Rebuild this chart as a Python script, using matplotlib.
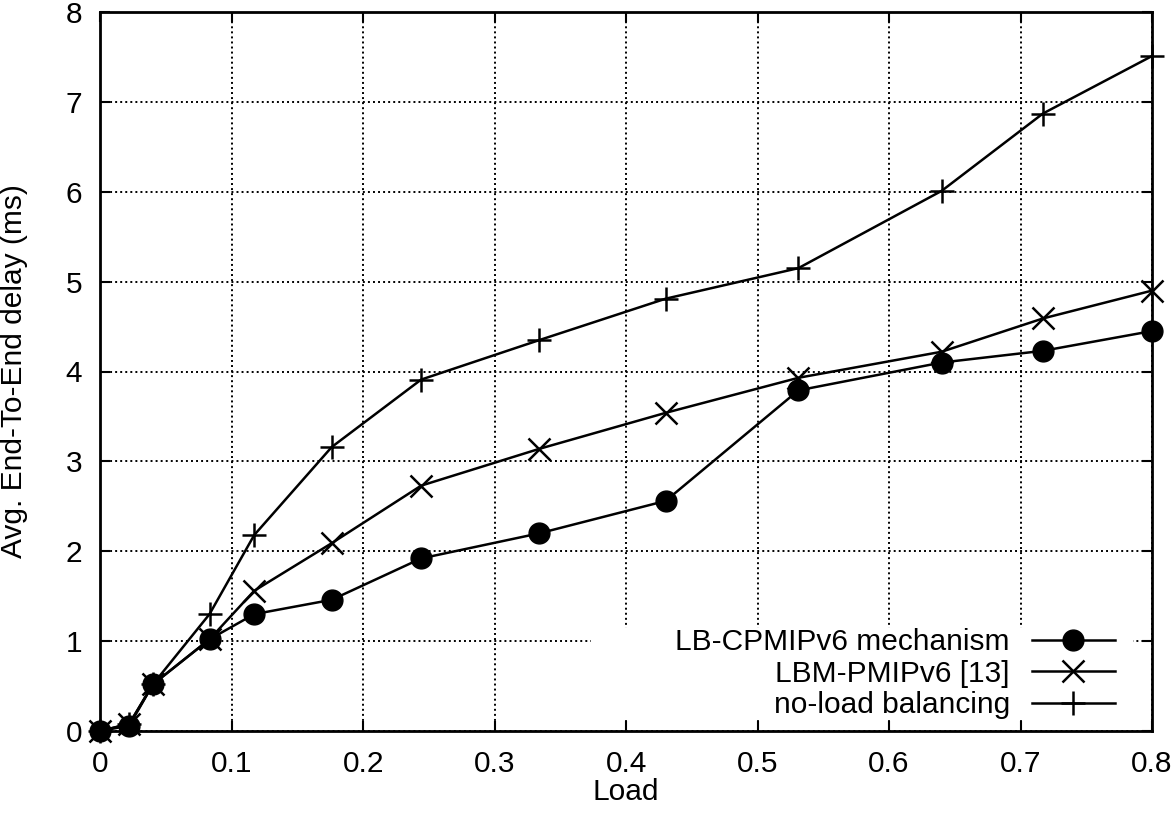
import matplotlib
matplotlib.use("Agg")
import matplotlib.pyplot as plt
from matplotlib.patches import Rectangle

plt.rcParams['font.family'] = ['Liberation Sans', 'DejaVu Sans']

# data
load = [0, 0.022, 0.040, 0.083, 0.117, 0.176, 0.244, 0.334, 0.430, 0.531, 0.640, 0.717, 0.800]
lb_cpmipv6 = [0, 0.06, 0.52, 1.02, 1.30, 1.46, 1.92, 2.20, 2.56, 3.79, 4.10, 4.23, 4.45]
lbm_pmipv6 = [0, 0.08, 0.52, 1.02, 1.56, 2.09, 2.73, 3.14, 3.54, 3.93, 4.22, 4.59, 4.90]
no_lb = [0, 0.08, 0.52, 1.30, 2.18, 3.16, 3.91, 4.35, 4.81, 5.15, 6.01, 6.87, 7.51]

labels = ["LB-CPMIPv6 mechanism", "LBM-PMIPv6 [13]", "no-load balancing"]
xticks = [0, 0.1, 0.2, 0.3, 0.4, 0.5, 0.6, 0.7, 0.8]
xticklabels = ["0", "0.1", "0.2", "0.3", "0.4", "0.5", "0.6", "0.7", "0.8"]
yticks = [0, 1, 2, 3, 4, 5, 6, 7, 8]

FS = 21.5

fig = plt.figure(figsize=(11.76, 8.18), dpi=100)
ax = fig.add_axes([100.4 / 1176, 1 - 731 / 818, (1152 - 100.4) / 1176, (731 - 12) / 818])

ax.set_axisbelow(True)
ax.grid(True, color="black", linestyle=(0, (1, 1.6)), linewidth=1.4)

# white box behind the key (gnuplot-style)
ax.add_patch(Rectangle((0.4665, 0.0153), 0.982 - 0.4665, 0.1433 - 0.0153,
                       transform=ax.transAxes, facecolor="white", edgecolor="none", zorder=1))

ax.plot(load, lb_cpmipv6, color="black", lw=1.8, marker="o", ms=15, mew=1,
        label=labels[0], clip_on=False, zorder=3)
ax.plot(load, lbm_pmipv6, color="black", lw=1.8, marker="x", ms=16, mew=1.8,
        label=labels[1], clip_on=False, zorder=3)
ax.plot(load, no_lb, color="black", lw=1.8, marker="+", ms=17, mew=1.8,
        label=labels[2], clip_on=False, zorder=3)

ax.set_xlim(0, 0.8)
ax.set_ylim(0, 8)
ax.set_xticks(xticks)
ax.set_xticklabels(xticklabels)
ax.set_yticks(yticks)

for s in ax.spines.values():
    s.set_linewidth(2)
ax.tick_params(axis="both", direction="in", length=7.5, width=1.5,
               top=True, right=True, labelsize=FS)
ax.tick_params(axis="x", pad=14)
ax.tick_params(axis="y", pad=13)

ax.set_xlabel("Load", fontsize=FS, labelpad=0)
ax.set_ylabel("Avg. End-To-End delay (ms)", fontsize=FS)
ax.yaxis.set_label_coords(-0.069, 0.5)

leg = ax.legend(loc="upper right", bbox_to_anchor=(0.9648, 0.1433), frameon=False,
                markerfirst=False, fontsize=FS, handlelength=2.78, handletextpad=0.74,
                labelspacing=0.12, borderpad=0, borderaxespad=0)
leg.set_zorder(4)

fig.savefig("out.png", dpi=100)
